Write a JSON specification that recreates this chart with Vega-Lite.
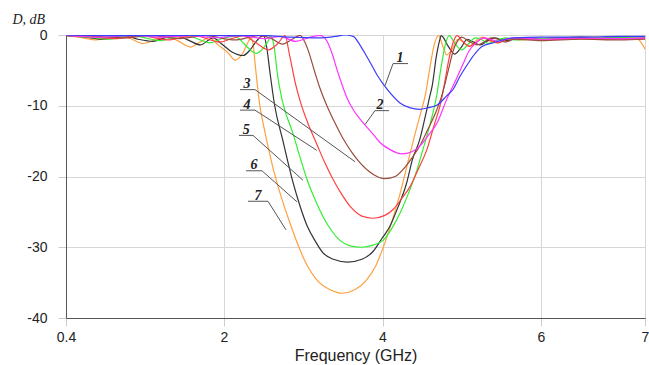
{
"$schema": "https://vega.github.io/schema/vega-lite/v6.json",
"width": 579, "height": 283,
"autosize": "none",
"padding": {"left": 66, "top": 35, "right": 4, "bottom": 47},
"background": "white",
"config": {
 "view": {"stroke": "#666", "strokeWidth": 1},
 "axis": {"labelFont": "Liberation Sans", "titleFont": "Liberation Sans", "labelColor": "#222", "titleColor": "#222", "gridColor": "#d6d6d6", "tickColor": "#cccccc", "domainColor": "#555"}
},
"datasets": {
 "curves": [
  {"c":"7","f":0.40,"db":-0.1},{"c":"7","f":0.55,"db":-0.35},{"c":"7","f":0.71,"db":-0.7},{"c":"7","f":0.82,"db":-0.35},{"c":"7","f":0.92,"db":-0.05},{"c":"7","f":1.05,"db":-0.5},{"c":"7","f":1.18,"db":-1.2},{"c":"7","f":1.30,"db":-0.7},{"c":"7","f":1.42,"db":-0.1},{"c":"7","f":1.53,"db":-0.8},{"c":"7","f":1.66,"db":-1.7},{"c":"7","f":1.76,"db":-1.0},{"c":"7","f":1.85,"db":-0.35},{"c":"7","f":1.94,"db":-1.4},{"c":"7","f":2.05,"db":-2.5},{"c":"7","f":2.14,"db":-3.55},{"c":"7","f":2.24,"db":-2.5},{"c":"7","f":2.30,"db":-1.1},{"c":"7","f":2.34,"db":-0.4},{"c":"7","f":2.37,"db":-1.5},{"c":"7","f":2.39,"db":-3.8},{"c":"7","f":2.42,"db":-7.0},{"c":"7","f":2.45,"db":-9.8},{"c":"7","f":2.50,"db":-12.8},{"c":"7","f":2.56,"db":-16.0},{"c":"7","f":2.63,"db":-19.3},{"c":"7","f":2.72,"db":-22.8},{"c":"7","f":2.83,"db":-26.5},{"c":"7","f":2.96,"db":-30.4},{"c":"7","f":3.06,"db":-32.8},{"c":"7","f":3.17,"db":-34.6},{"c":"7","f":3.34,"db":-36.0},{"c":"7","f":3.49,"db":-36.5},{"c":"7","f":3.65,"db":-36.0},{"c":"7","f":3.80,"db":-34.6},{"c":"7","f":3.92,"db":-32.5},{"c":"7","f":4.01,"db":-30.0},{"c":"7","f":4.12,"db":-26.3},{"c":"7","f":4.22,"db":-22.5},{"c":"7","f":4.32,"db":-18.0},{"c":"7","f":4.41,"db":-14.0},{"c":"7","f":4.47,"db":-11.5},{"c":"7","f":4.54,"db":-8.5},{"c":"7","f":4.60,"db":-4.5},{"c":"7","f":4.65,"db":-1.5},{"c":"7","f":4.71,"db":-0.1},{"c":"7","f":4.75,"db":-1.2},{"c":"7","f":4.81,"db":-2.8},{"c":"7","f":4.89,"db":-1.8},{"c":"7","f":4.95,"db":-0.6},{"c":"7","f":5.02,"db":-1.0},{"c":"7","f":5.09,"db":-1.6},{"c":"7","f":5.18,"db":-0.8},{"c":"7","f":5.26,"db":-0.3},{"c":"7","f":5.36,"db":-0.9},{"c":"7","f":5.45,"db":-1.1},{"c":"7","f":5.57,"db":-0.5},{"c":"7","f":5.73,"db":-0.7},{"c":"7","f":6.00,"db":-0.5},{"c":"7","f":6.28,"db":-0.4},{"c":"7","f":6.57,"db":-0.4},{"c":"7","f":6.81,"db":-0.5},{"c":"7","f":6.91,"db":-0.4},{"c":"7","f":6.96,"db":-1.0},{"c":"7","f":7.00,"db":-2.0},
  {"c":"6","f":0.40,"db":-0.1},{"c":"6","f":0.59,"db":-0.3},{"c":"6","f":0.79,"db":-0.6},{"c":"6","f":0.98,"db":-0.05},{"c":"6","f":1.13,"db":-0.6},{"c":"6","f":1.28,"db":-0.9},{"c":"6","f":1.40,"db":-0.4},{"c":"6","f":1.52,"db":-0.1},{"c":"6","f":1.65,"db":-0.8},{"c":"6","f":1.76,"db":-1.4},{"c":"6","f":1.89,"db":-0.4},{"c":"6","f":1.98,"db":-1.3},{"c":"6","f":2.10,"db":-2.4},{"c":"6","f":2.24,"db":-2.9},{"c":"6","f":2.33,"db":-2.1},{"c":"6","f":2.40,"db":-1.0},{"c":"6","f":2.47,"db":-0.2},{"c":"6","f":2.50,"db":-0.1},{"c":"6","f":2.54,"db":-1.8},{"c":"6","f":2.58,"db":-5.3},{"c":"6","f":2.64,"db":-10.0},{"c":"6","f":2.74,"db":-14.8},{"c":"6","f":2.87,"db":-20.8},{"c":"6","f":2.96,"db":-24.2},{"c":"6","f":3.05,"db":-27.0},{"c":"6","f":3.15,"db":-29.1},{"c":"6","f":3.25,"db":-30.8},{"c":"6","f":3.38,"db":-31.7},{"c":"6","f":3.56,"db":-32.1},{"c":"6","f":3.74,"db":-31.7},{"c":"6","f":3.88,"db":-30.6},{"c":"6","f":3.99,"db":-28.8},{"c":"6","f":4.09,"db":-27.1},{"c":"6","f":4.20,"db":-24.2},{"c":"6","f":4.30,"db":-21.1},{"c":"6","f":4.38,"db":-17.5},{"c":"6","f":4.47,"db":-14.8},{"c":"6","f":4.54,"db":-11.5},{"c":"6","f":4.59,"db":-9.0},{"c":"6","f":4.63,"db":-7.0},{"c":"6","f":4.68,"db":-3.0},{"c":"6","f":4.72,"db":-0.8},{"c":"6","f":4.74,"db":-0.1},{"c":"6","f":4.83,"db":-1.6},{"c":"6","f":4.91,"db":-2.7},{"c":"6","f":4.99,"db":-1.8},{"c":"6","f":5.07,"db":-0.6},{"c":"6","f":5.15,"db":-1.0},{"c":"6","f":5.23,"db":-1.4},{"c":"6","f":5.33,"db":-0.8},{"c":"6","f":5.41,"db":-0.4},{"c":"6","f":5.55,"db":-0.8},{"c":"6","f":5.73,"db":-0.4},{"c":"6","f":6.00,"db":-0.5},{"c":"6","f":6.38,"db":-0.3},{"c":"6","f":6.76,"db":-0.4},{"c":"6","f":7.00,"db":-0.3},
  {"c":"5","f":0.40,"db":-0.05},{"c":"5","f":0.62,"db":-0.3},{"c":"5","f":0.85,"db":-0.6},{"c":"5","f":1.05,"db":-0.05},{"c":"5","f":1.20,"db":-0.4},{"c":"5","f":1.35,"db":-0.8},{"c":"5","f":1.50,"db":-0.3},{"c":"5","f":1.63,"db":-0.05},{"c":"5","f":1.74,"db":-0.6},{"c":"5","f":1.86,"db":-1.1},{"c":"5","f":1.98,"db":-0.5},{"c":"5","f":2.13,"db":-0.2},{"c":"5","f":2.26,"db":-1.3},{"c":"5","f":2.35,"db":-2.3},{"c":"5","f":2.41,"db":-2.6},{"c":"5","f":2.50,"db":-1.8},{"c":"5","f":2.56,"db":-0.8},{"c":"5","f":2.59,"db":-0.1},{"c":"5","f":2.63,"db":-1.5},{"c":"5","f":2.68,"db":-6.0},{"c":"5","f":2.74,"db":-9.5},{"c":"5","f":2.87,"db":-13.9},{"c":"5","f":2.96,"db":-17.3},{"c":"5","f":3.05,"db":-20.5},{"c":"5","f":3.15,"db":-23.3},{"c":"5","f":3.25,"db":-25.7},{"c":"5","f":3.36,"db":-27.7},{"c":"5","f":3.46,"db":-29.0},{"c":"5","f":3.59,"db":-29.8},{"c":"5","f":3.74,"db":-30.0},{"c":"5","f":3.88,"db":-29.7},{"c":"5","f":4.01,"db":-29.0},{"c":"5","f":4.12,"db":-27.3},{"c":"5","f":4.22,"db":-25.2},{"c":"5","f":4.32,"db":-22.6},{"c":"5","f":4.42,"db":-19.6},{"c":"5","f":4.51,"db":-16.2},{"c":"5","f":4.60,"db":-12.6},{"c":"5","f":4.68,"db":-8.8},{"c":"5","f":4.74,"db":-4.5},{"c":"5","f":4.79,"db":-1.5},{"c":"5","f":4.84,"db":-0.1},{"c":"5","f":4.92,"db":-1.3},{"c":"5","f":5.00,"db":-2.1},{"c":"5","f":5.09,"db":-1.2},{"c":"5","f":5.17,"db":-0.4},{"c":"5","f":5.26,"db":-0.7},{"c":"5","f":5.33,"db":-1.2},{"c":"5","f":5.43,"db":-0.8},{"c":"5","f":5.55,"db":-0.4},{"c":"5","f":5.67,"db":-0.7},{"c":"5","f":6.00,"db":-0.5},{"c":"5","f":6.38,"db":-0.4},{"c":"5","f":6.76,"db":-0.3},{"c":"5","f":7.00,"db":-0.4},
  {"c":"4","f":0.40,"db":-0.05},{"c":"4","f":0.66,"db":-0.25},{"c":"4","f":0.92,"db":-0.5},{"c":"4","f":1.15,"db":-0.05},{"c":"4","f":1.30,"db":-0.4},{"c":"4","f":1.43,"db":-0.7},{"c":"4","f":1.58,"db":-0.3},{"c":"4","f":1.71,"db":-0.05},{"c":"4","f":1.84,"db":-0.6},{"c":"4","f":1.96,"db":-1.0},{"c":"4","f":2.10,"db":-0.5},{"c":"4","f":2.24,"db":-0.1},{"c":"4","f":2.39,"db":-1.0},{"c":"4","f":2.56,"db":-2.1},{"c":"4","f":2.68,"db":-1.2},{"c":"4","f":2.77,"db":-0.1},{"c":"4","f":2.83,"db":-3.0},{"c":"4","f":2.90,"db":-6.8},{"c":"4","f":2.96,"db":-9.3},{"c":"4","f":3.06,"db":-12.5},{"c":"4","f":3.17,"db":-15.4},{"c":"4","f":3.27,"db":-18.0},{"c":"4","f":3.38,"db":-20.5},{"c":"4","f":3.49,"db":-22.6},{"c":"4","f":3.59,"db":-24.2},{"c":"4","f":3.74,"db":-25.6},{"c":"4","f":3.88,"db":-25.9},{"c":"4","f":4.03,"db":-25.5},{"c":"4","f":4.13,"db":-24.7},{"c":"4","f":4.25,"db":-23.0},{"c":"4","f":4.35,"db":-21.4},{"c":"4","f":4.45,"db":-19.0},{"c":"4","f":4.56,"db":-16.2},{"c":"4","f":4.65,"db":-12.8},{"c":"4","f":4.73,"db":-9.8},{"c":"4","f":4.78,"db":-7.0},{"c":"4","f":4.84,"db":-3.3},{"c":"4","f":4.89,"db":-1.1},{"c":"4","f":4.94,"db":-0.1},{"c":"4","f":5.02,"db":-1.0},{"c":"4","f":5.10,"db":-1.6},{"c":"4","f":5.19,"db":-1.0},{"c":"4","f":5.28,"db":-0.4},{"c":"4","f":5.37,"db":-0.8},{"c":"4","f":5.46,"db":-1.1},{"c":"4","f":5.58,"db":-0.6},{"c":"4","f":5.73,"db":-0.5},{"c":"4","f":6.00,"db":-0.7},{"c":"4","f":6.38,"db":-0.5},{"c":"4","f":6.76,"db":-0.6},{"c":"4","f":7.00,"db":-0.5},
  {"c":"3","f":0.40,"db":-0.05},{"c":"3","f":0.69,"db":-0.2},{"c":"3","f":1.00,"db":-0.4},{"c":"3","f":1.25,"db":-0.05},{"c":"3","f":1.55,"db":-0.5},{"c":"3","f":1.81,"db":-0.1},{"c":"3","f":2.14,"db":-0.7},{"c":"3","f":2.43,"db":-0.1},{"c":"3","f":2.58,"db":-0.4},{"c":"3","f":2.74,"db":-1.3},{"c":"3","f":2.86,"db":-0.6},{"c":"3","f":2.96,"db":-0.05},{"c":"3","f":3.02,"db":-1.0},{"c":"3","f":3.06,"db":-2.1},{"c":"3","f":3.15,"db":-5.4},{"c":"3","f":3.21,"db":-7.5},{"c":"3","f":3.29,"db":-9.8},{"c":"3","f":3.39,"db":-12.2},{"c":"3","f":3.50,"db":-14.6},{"c":"3","f":3.62,"db":-16.7},{"c":"3","f":3.72,"db":-18.1},{"c":"3","f":3.87,"db":-19.6},{"c":"3","f":4.03,"db":-20.3},{"c":"3","f":4.16,"db":-20.0},{"c":"3","f":4.26,"db":-19.0},{"c":"3","f":4.37,"db":-17.4},{"c":"3","f":4.47,"db":-15.7},{"c":"3","f":4.57,"db":-13.4},{"c":"3","f":4.67,"db":-11.0},{"c":"3","f":4.75,"db":-8.5},{"c":"3","f":4.83,"db":-5.0},{"c":"3","f":4.89,"db":-2.3},{"c":"3","f":4.95,"db":-0.8},{"c":"3","f":5.00,"db":-0.3},{"c":"3","f":5.09,"db":-0.9},{"c":"3","f":5.19,"db":-1.4},{"c":"3","f":5.28,"db":-1.0},{"c":"3","f":5.37,"db":-0.4},{"c":"3","f":5.46,"db":-0.6},{"c":"3","f":5.55,"db":-1.0},{"c":"3","f":5.67,"db":-0.6},{"c":"3","f":6.00,"db":-0.8},{"c":"3","f":6.38,"db":-0.6},{"c":"3","f":6.76,"db":-0.7},{"c":"3","f":7.00,"db":-0.6},
  {"c":"2","f":0.40,"db":-0.05},{"c":"2","f":0.74,"db":-0.3},{"c":"2","f":1.10,"db":-0.05},{"c":"2","f":1.35,"db":-0.3},{"c":"2","f":1.66,"db":-0.1},{"c":"2","f":1.91,"db":-0.4},{"c":"2","f":2.20,"db":-0.1},{"c":"2","f":2.52,"db":-0.5},{"c":"2","f":2.71,"db":-0.2},{"c":"2","f":2.90,"db":-0.9},{"c":"2","f":3.09,"db":-0.3},{"c":"2","f":3.22,"db":-0.05},{"c":"2","f":3.31,"db":-1.1},{"c":"2","f":3.375,"db":-3.0},{"c":"2","f":3.426,"db":-4.9},{"c":"2","f":3.489,"db":-7.0},{"c":"2","f":3.552,"db":-8.9},{"c":"2","f":3.628,"db":-10.5},{"c":"2","f":3.754,"db":-12.4},{"c":"2","f":3.88,"db":-14.0},{"c":"2","f":3.968,"db":-15.2},{"c":"2","f":4.095,"db":-16.2},{"c":"2","f":4.246,"db":-16.8},{"c":"2","f":4.37,"db":-16.5},{"c":"2","f":4.47,"db":-15.7},{"c":"2","f":4.57,"db":-14.3},{"c":"2","f":4.69,"db":-12.4},{"c":"2","f":4.81,"db":-9.1},{"c":"2","f":4.94,"db":-6.0},{"c":"2","f":5.02,"db":-4.0},{"c":"2","f":5.09,"db":-2.3},{"c":"2","f":5.17,"db":-1.2},{"c":"2","f":5.28,"db":-0.4},{"c":"2","f":5.36,"db":-0.6},{"c":"2","f":5.46,"db":-0.9},{"c":"2","f":5.58,"db":-0.5},{"c":"2","f":5.73,"db":-0.4},{"c":"2","f":6.00,"db":-0.6},{"c":"2","f":6.38,"db":-0.4},{"c":"2","f":6.76,"db":-0.5},{"c":"2","f":7.00,"db":-0.4},
  {"c":"1","f":0.40,"db":0.0},{"c":"1","f":0.95,"db":-0.1},{"c":"1","f":1.55,"db":-0.05},{"c":"1","f":2.00,"db":-0.1},{"c":"1","f":2.45,"db":-0.05},{"c":"1","f":2.83,"db":-0.3},{"c":"1","f":3.21,"db":-0.4},{"c":"1","f":3.40,"db":-0.2},{"c":"1","f":3.53,"db":0.0},{"c":"1","f":3.63,"db":-0.2},{"c":"1","f":3.72,"db":-1.5},{"c":"1","f":3.80,"db":-3.0},{"c":"1","f":3.88,"db":-4.6},{"c":"1","f":3.94,"db":-5.8},{"c":"1","f":4.06,"db":-7.7},{"c":"1","f":4.22,"db":-9.6},{"c":"1","f":4.35,"db":-10.3},{"c":"1","f":4.47,"db":-10.5},{"c":"1","f":4.57,"db":-10.3},{"c":"1","f":4.69,"db":-9.9},{"c":"1","f":4.81,"db":-8.6},{"c":"1","f":4.89,"db":-7.7},{"c":"1","f":4.98,"db":-5.8},{"c":"1","f":5.07,"db":-4.2},{"c":"1","f":5.17,"db":-2.6},{"c":"1","f":5.26,"db":-1.6},{"c":"1","f":5.40,"db":-1.1},{"c":"1","f":5.55,"db":-0.6},{"c":"1","f":5.65,"db":-0.4},{"c":"1","f":6.00,"db":-0.3},{"c":"1","f":6.38,"db":-0.3},{"c":"1","f":6.76,"db":-0.2},{"c":"1","f":7.00,"db":-0.2}
 ],
 "leaders": [
  {"id":"1","o":1,"f":4.322,"db":-4.04},{"id":"1","o":2,"f":4.133,"db":-4.04},{"id":"1","o":3,"f":4.032,"db":-7.15},
  {"id":"2","o":1,"f":4.082,"db":-10.69},{"id":"2","o":2,"f":3.905,"db":-10.69},{"id":"2","o":3,"f":3.779,"db":-12.67},
  {"id":"3","o":1,"f":2.202,"db":-7.72},{"id":"3","o":2,"f":2.391,"db":-7.72},{"id":"3","o":3,"f":3.653,"db":-17.91},
  {"id":"4","o":1,"f":2.202,"db":-10.62},{"id":"4","o":2,"f":2.391,"db":-10.62},{"id":"4","o":3,"f":3.17,"db":-16.3},
  {"id":"5","o":1,"f":2.189,"db":-14.19},{"id":"5","o":2,"f":2.366,"db":-14.19},{"id":"5","o":3,"f":2.997,"db":-20.53},
  {"id":"6","o":1,"f":2.278,"db":-19.19},{"id":"6","o":2,"f":2.479,"db":-19.19},{"id":"6","o":3,"f":2.921,"db":-23.58},
  {"id":"7","o":1,"f":2.303,"db":-23.5},{"id":"7","o":2,"f":2.555,"db":-23.5},{"id":"7","o":3,"f":2.782,"db":-27.54}
 ],
 "labels": [
  {"id":"1","f":4.221,"db":-3.83},{"id":"2","f":3.968,"db":-10.48},{"id":"3","f":2.29,"db":-7.51},{"id":"4","f":2.29,"db":-10.41},{"id":"5","f":2.28,"db":-13.98},{"id":"6","f":2.38,"db":-18.98},{"id":"7","f":2.43,"db":-23.29}
 ]
},
"layer": [
 {
  "data": {"name": "curves"},
  "mark": {"type": "line", "interpolate": "monotone", "strokeWidth": 1.2, "clip": true},
  "encoding": {
   "x": {"field": "f", "type": "quantitative",
     "scale": {"domain": [0.4, 2, 6, 7], "range": [0, 158, 475, 579], "nice": false, "zero": false},
     "axis": {"values": [0.4, 2, 4, 6, 7], "labelExpr": "'' + datum.value", "title": "Frequency (GHz)", "labelFontSize": 14, "labelFlush": false, "labelOverlap": false, "tickSize": 8, "labelPadding": 4, "titleFontSize": 16, "titleFontWeight": "normal", "titlePadding": 3, "grid": true}},
   "y": {"field": "db", "type": "quantitative",
     "scale": {"domain": [-40, 0], "nice": false, "zero": false},
     "axis": {"values": [0, -10, -20, -30, -40], "labelExpr": "'' + datum.value", "labelFontSize": 14, "tickSize": 8, "labelPadding": 11, "grid": true, "title": "D, dB", "titleAngle": 0, "titleAlign": "left", "titleBaseline": "alphabetic", "titleX": -54, "titleY": -12, "titleFont": "Liberation Serif", "titleFontStyle": "italic", "titleFontWeight": "normal", "titleFontSize": 14}},
   "color": {"field": "c", "type": "nominal",
     "scale": {"domain": ["1","2","3","4","5","6","7"], "range": ["#3c3cff","#ff33ff","#9b4b3c","#ff4040","#33ee33","#333333","#ffa040"]},
     "legend": null}
  }
 },
 {
  "data": {"name": "leaders"},
  "mark": {"type": "line", "color": "#555555", "strokeWidth": 1, "interpolate": "linear"},
  "encoding": {
   "x": {"field": "f", "type": "quantitative"},
   "y": {"field": "db", "type": "quantitative"},
   "detail": {"field": "id"},
   "order": {"field": "o"}
  }
 },
 {
  "data": {"name": "labels"},
  "mark": {"type": "text", "font": "Liberation Serif", "fontStyle": "italic", "fontWeight": "bold", "fontSize": 14, "color": "#222222", "baseline": "alphabetic", "align": "center"},
  "encoding": {
   "x": {"field": "f", "type": "quantitative"},
   "y": {"field": "db", "type": "quantitative"},
   "text": {"field": "id"}
  }
 }
]
}
